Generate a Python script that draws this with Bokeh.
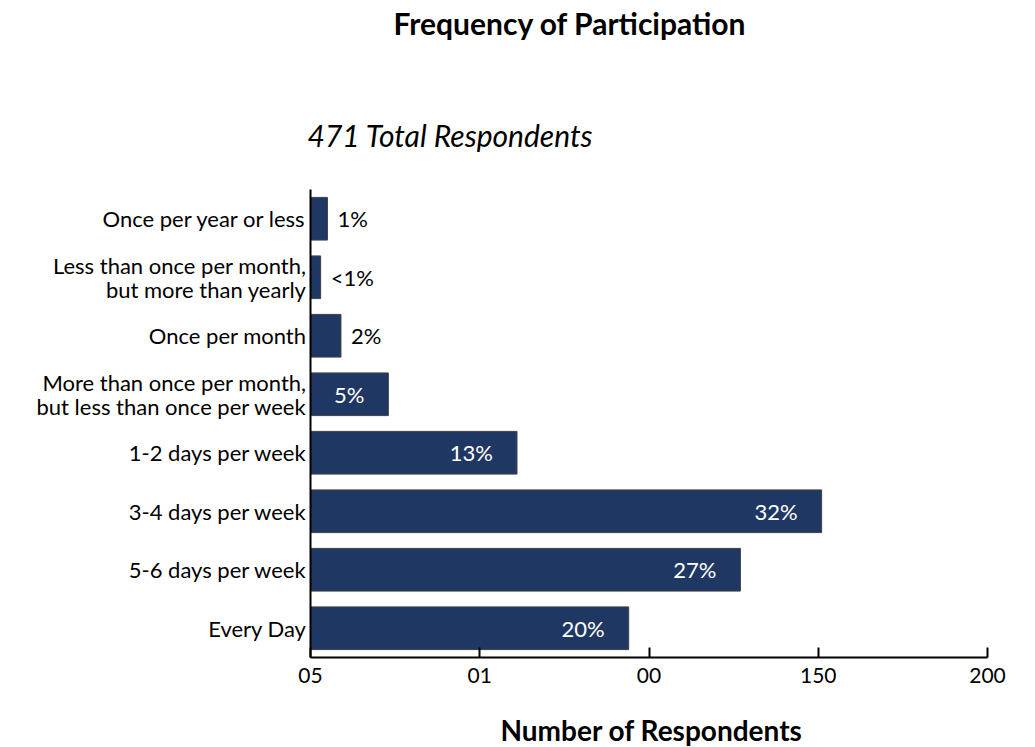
from bokeh.plotting import figure
from bokeh.models import Range1d, FactorRange, FixedTicker, Title, ColumnDataSource
from bokeh.embed import file_html
from bokeh.resources import INLINE
from bokeh.core.properties import value

categories = [
    "Once per year or less",
    "Less than once per month,\nbut more than yearly",
    "Once per month",
    "More than once per month,\nbut less than once per week",
    "1-2 days per week",
    "3-4 days per week",
    "5-6 days per week",
    "Every Day",
]
counts = [5, 3, 9, 23, 61, 151, 127, 94]
pct_labels = ["1%", "<1%", "2%", "5%", "13%", "32%", "27%", "20%"]
x_ticks = [0, 50, 100, 150, 200]
x_tick_labels = ["05", "01", "00", "150", "200"]

FONT = "Lato"
BAR = "#1f3763"

p = figure(
    y_range=FactorRange(factors=list(reversed(categories))),
    x_range=Range1d(0, 200),
    frame_width=677, frame_height=468,
    min_border_left=310, min_border_right=30,
    min_border_top=189, min_border_bottom=89,
    output_backend="svg", toolbar_location=None,
)
p.outline_line_color = None
p.xgrid.grid_line_color = None
p.ygrid.grid_line_color = None

src = ColumnDataSource(dict(cat=categories, cnt=counts, lab=pct_labels))
p.hbar(y="cat", right="cnt", left=0, height=0.73, source=src,
       fill_color=BAR, line_color="#404040", line_width=1)

outside = [i for i, c in enumerate(counts) if c < 15]
inside = [i for i, c in enumerate(counts) if c >= 15]
src_out = ColumnDataSource(dict(cat=[categories[i] for i in outside],
                                cnt=[counts[i] for i in outside],
                                lab=[pct_labels[i] for i in outside]))
src_in = ColumnDataSource(dict(cat=[categories[i] for i in inside],
                               cnt=[counts[i] for i in inside],
                               lab=[pct_labels[i] for i in inside]))
p.text(x="cnt", y="cat", text="lab", source=src_out, x_offset=10,
       text_align="left", text_baseline="middle", text_color="black",
       text_font=value(FONT), text_font_size="22px")
p.text(x="cnt", y="cat", text="lab", source=src_in, x_offset=-24,
       text_align="right", text_baseline="middle", text_color="white",
       text_font=value(FONT), text_font_size="22px")

xa = p.xaxis[0]
xa.ticker = FixedTicker(ticks=x_ticks)
xa.major_label_overrides = {t: l for t, l in zip(x_ticks, x_tick_labels)}
xa.major_tick_in = 10
xa.major_tick_out = 0
xa.minor_tick_line_color = None
xa.axis_line_width = 2
xa.major_tick_line_width = 2
xa.axis_line_color = "black"
xa.major_tick_line_color = "black"
xa.major_label_text_font = FONT
xa.major_label_text_font_size = "21px"
xa.major_label_text_color = "black"
xa.major_label_standoff = 10

ya = p.yaxis[0]
ya.major_tick_in = 0
ya.major_tick_out = 0
ya.minor_tick_line_color = None
ya.axis_line_width = 2
ya.axis_line_color = "black"
ya.major_label_text_font = FONT
ya.major_label_text_font_size = "22px"
ya.major_label_text_line_height = 0.9
ya.major_label_text_color = "black"
ya.major_label_standoff = 4

# below: spacer, then axis title
p.add_layout(Title(text=" ", text_font_size="1px", standoff=22), "below")
p.add_layout(Title(text="Number of Respondents", align="left", offset=190,
                   text_font=FONT, text_font_size="28px", text_font_style="bold",
                   text_color="black", standoff=0), "below")
# above: subtitle, spacer, main title
p.add_layout(Title(text="471 Total Respondents", align="left", offset=-3,
                   text_font=FONT, text_font_size="30px", text_font_style="italic",
                   text_color="black", standoff=74), "above")
p.add_layout(Title(text=" ", text_font_size="1px", standoff=32), "above")
p.add_layout(Title(text="Frequency of Participation", align="left", offset=83,
                   text_font=FONT, text_font_size="30px", text_font_style="bold",
                   text_color="black", standoff=4), "above")

open("out.html", "w").write(file_html(p, INLINE))
